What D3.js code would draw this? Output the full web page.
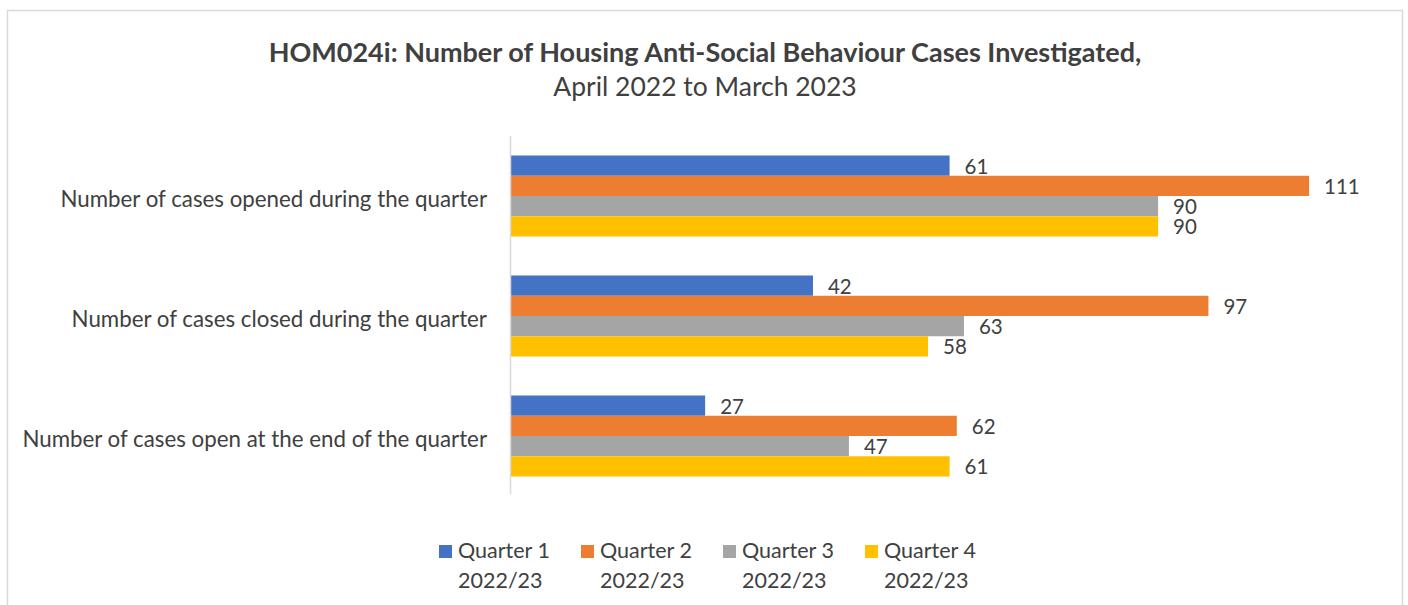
<!DOCTYPE html>
<html>
<head>
<meta charset="utf-8">
<script src="https://cdn.jsdelivr.net/npm/d3@7"></script>
<style>
  html, body { margin: 0; padding: 0; background: #fff; }
  svg { display: block; font-family: Lato, "Open Sans", sans-serif; }
</style>
</head>
<body>
<svg id="chart" width="1408" height="605"></svg>
<script>
// Categories (top to bottom) and quarterly counts
const categories = [
  "Number of cases opened during the quarter",
  "Number of cases closed during the quarter",
  "Number of cases open at the end of the quarter"
];
const seriesNames = ["Quarter 1 2022/23", "Quarter 2 2022/23", "Quarter 3 2022/23", "Quarter 4 2022/23"];
const q1 = [61, 42, 27];
const q2 = [111, 97, 62];
const q3 = [90, 63, 47];
const q4 = [90, 58, 61];
const seriesValues = [q1, q2, q3, q4];
const colors = ["#4472c4", "#ed7d31", "#a5a5a5", "#ffc000"];

const svg = d3.select("#chart");
const textColor = "#404040";

// Outer frame
svg.append("rect")
  .attr("x", 7.5).attr("y", 10.5)
  .attr("width", 1395).attr("height", 620)
  .attr("fill", "none").attr("stroke", "#d9d9d9").attr("stroke-width", 1.5);

// Title
const title = svg.append("text")
  .attr("x", 705).attr("text-anchor", "middle").attr("fill", textColor);
title.append("tspan").attr("x", 705).attr("y", 62)
  .attr("font-weight", "bold").attr("font-size", 27)
  .text("HOM024i: Number of Housing Anti-Social Behaviour Cases Investigated,");
title.append("tspan").attr("x", 705).attr("y", 96)
  .attr("font-size", 26.5)
  .text("April 2022 to March 2023");

// Scales
const x = d3.scaleLinear().domain([0, 120]).range([511, 511 + 120 * 7.19]);
const y0 = d3.scaleBand().domain(categories).range([136, 496])
  .paddingInner(0.325).paddingOuter(0.1625);
const y1 = d3.scaleBand().domain(d3.range(seriesNames.length)).range([0, y0.bandwidth()]);

// Bars and value labels
const groups = svg.append("g").selectAll("g")
  .data(categories)
  .join("g")
  .attr("transform", d => `translate(0,${y0(d)})`);

groups.each(function(cat, ci) {
  const g = d3.select(this);
  seriesValues.forEach((vals, si) => {
    const v = vals[ci];
    g.append("rect")
      .attr("x", x(0))
      .attr("y", y1(si))
      .attr("width", x(v) - x(0))
      .attr("height", y1.bandwidth())
      .attr("fill", colors[si]);
    g.append("text")
      .attr("x", x(v) + 15)
      .attr("y", y1(si) + y1.bandwidth() / 2 + 8)
      .attr("font-size", 20.5)
      .attr("fill", textColor)
      .text(v);
  });
});

// Category axis line
svg.append("line")
  .attr("x1", 510.5).attr("x2", 510.5)
  .attr("y1", 136).attr("y2", 494)
  .attr("stroke", "#d9d9d9").attr("stroke-width", 1.5);

// Category labels
const yAxis = d3.axisLeft(y0).tickSize(0).tickPadding(23);
const axisG = svg.append("g").attr("transform", "translate(510,4)").call(yAxis);
axisG.select(".domain").remove();
axisG.selectAll("text")
  .attr("font-size", 22.3)
  .attr("font-family", "Lato, 'Open Sans', sans-serif")
  .attr("fill", textColor);

// Legend
const legend = svg.append("g").selectAll("g")
  .data(seriesNames)
  .join("g")
  .attr("transform", (d, i) => `translate(${439 + i * 142},0)`);
legend.append("rect")
  .attr("x", 0).attr("y", 545)
  .attr("width", 13).attr("height", 13)
  .attr("fill", (d, i) => colors[i]);
legend.append("text")
  .attr("font-size", 21.5)
  .attr("fill", textColor)
  .each(function(d) {
    const parts = d.split(" ");
    const t = d3.select(this);
    t.append("tspan").attr("x", 19).attr("y", 558).text(parts.slice(0, 2).join(" "));
    t.append("tspan").attr("x", 19).attr("y", 588).text(parts.slice(2).join(" "));
  });
</script>
</body>
</html>
